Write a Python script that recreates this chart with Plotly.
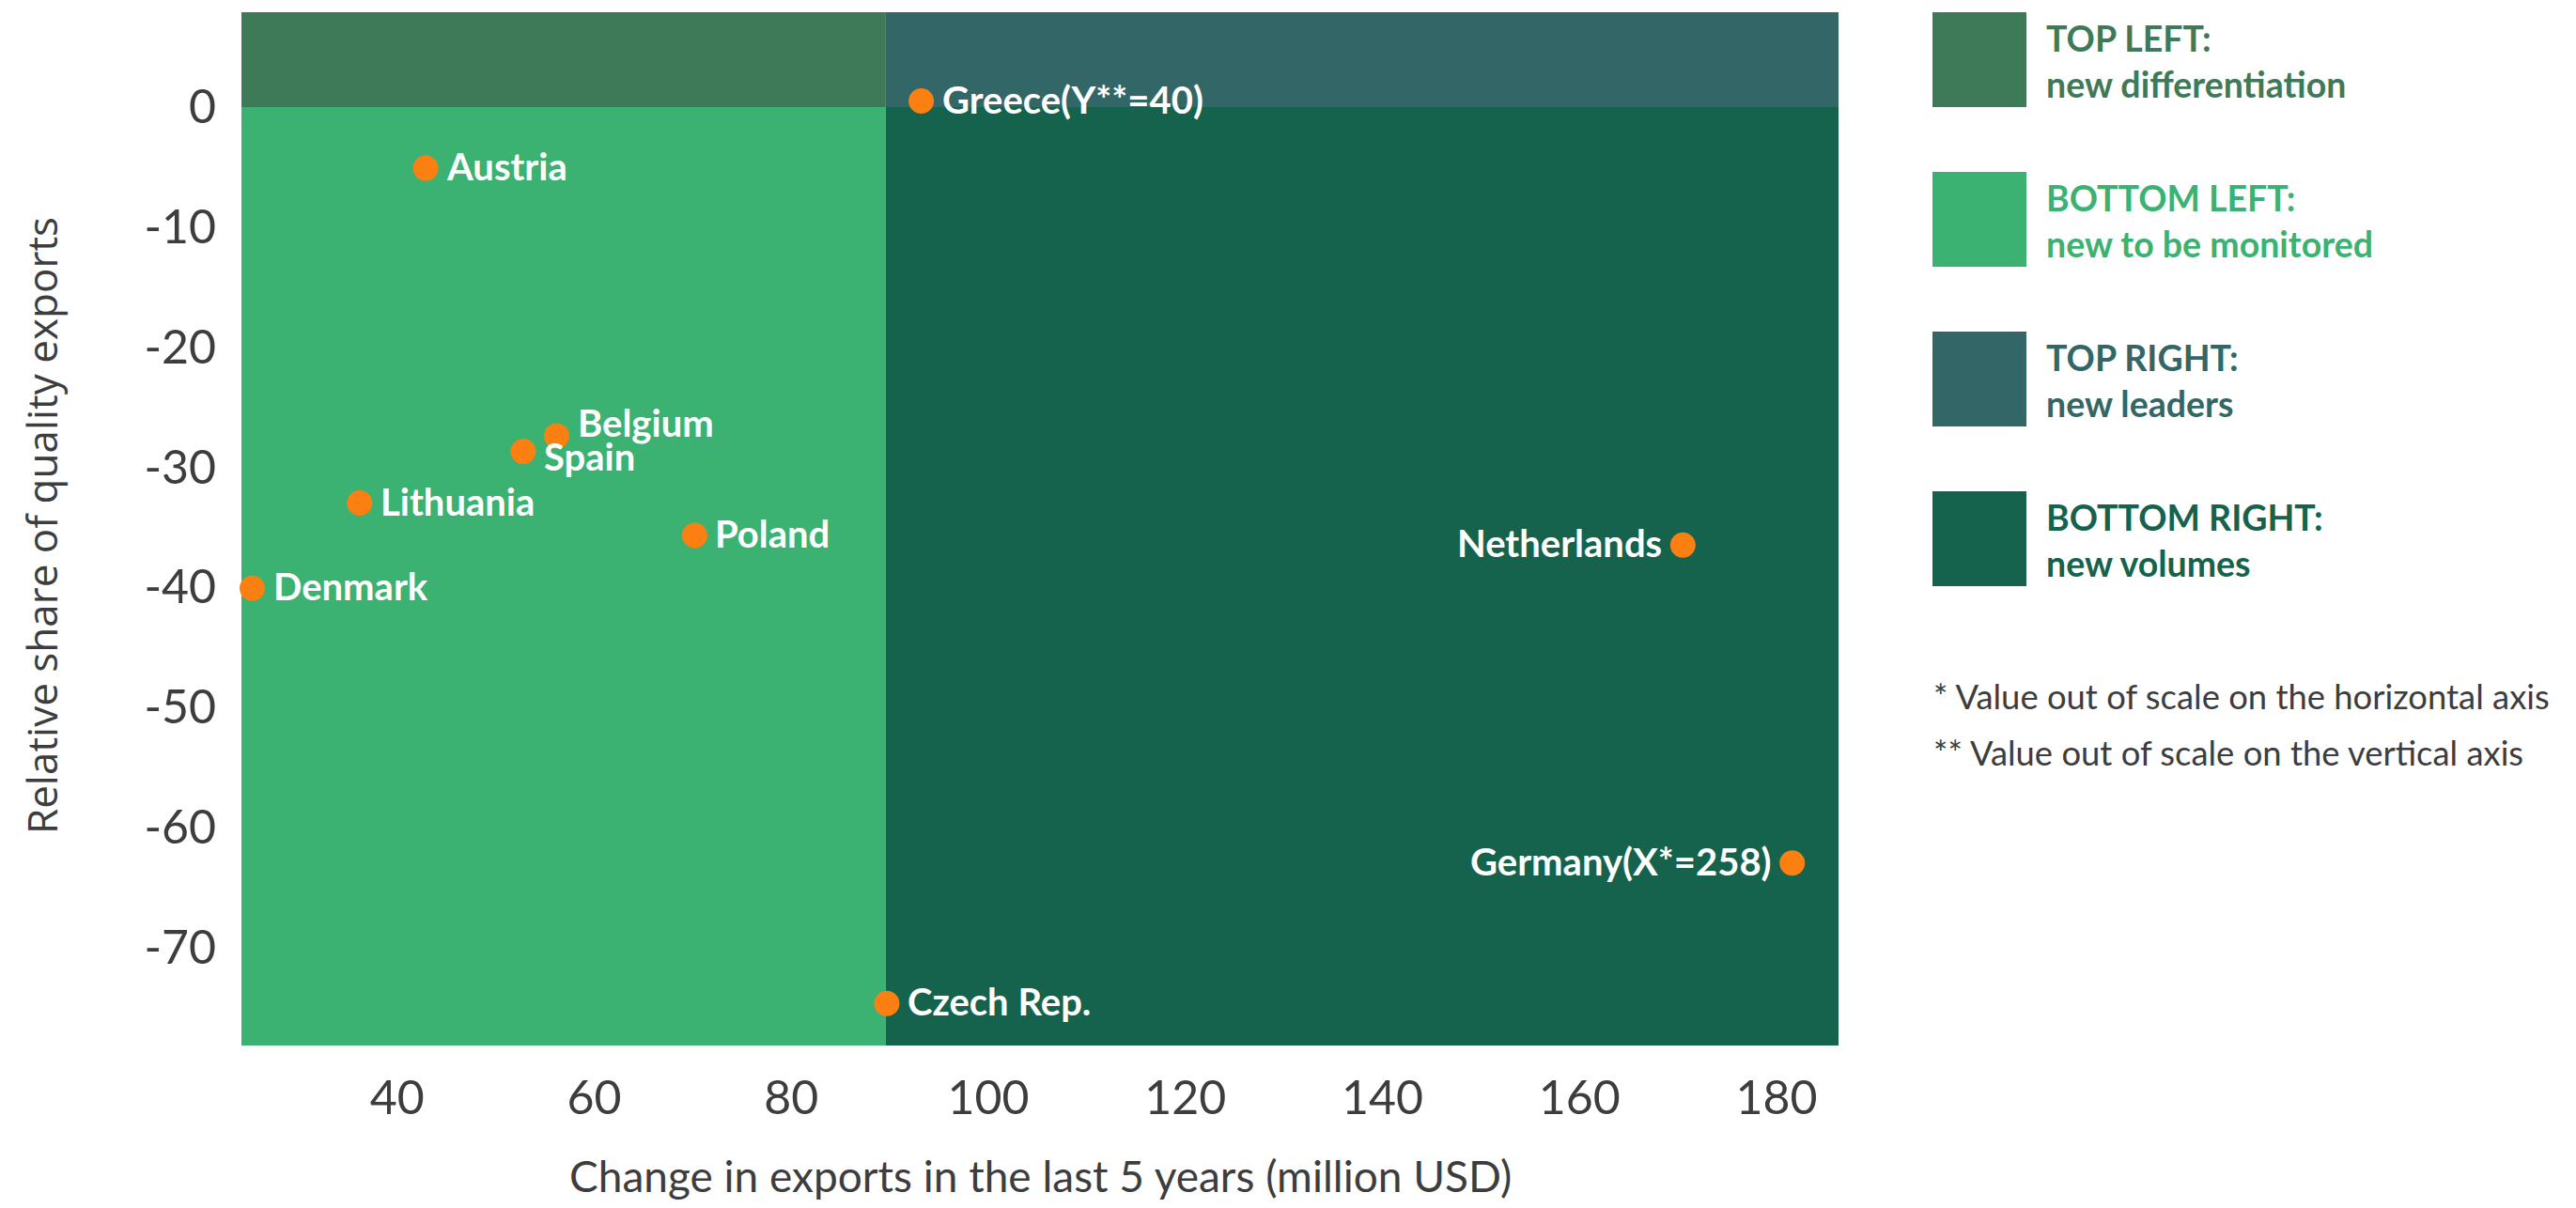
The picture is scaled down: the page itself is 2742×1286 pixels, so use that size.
import plotly.graph_objects as go

# ---------------- data ----------------
countries = ["Austria", "Belgium", "Spain", "Lithuania", "Poland", "Denmark",
             "Greece(Y**=40)", "Netherlands", "Germany(X*=258)", "Czech Rep."]
export_change = [42.9, 56.2, 52.8, 36.2, 70.2, 25.3, 93.2, 170.5, 181.6, 89.7]
quality_share = [-5.1, -27.4, -28.7, -33.0, -35.7, -40.1, 0.5, -36.5, -63.0, -74.7]

x_ticks = [40, 60, 80, 100, 120, 140, 160, 180]
y_ticks = [0, -10, -20, -30, -40, -50, -60, -70]

x_divider = 89.6
y_divider = 0

quadrant_titles = ["TOP LEFT:", "BOTTOM LEFT:", "TOP RIGHT:", "BOTTOM RIGHT:"]
quadrant_subtitles = ["new differentiation", "new to be monitored", "new leaders", "new volumes"]
footnotes = ["* Value out of scale on the horizontal axis",
             "** Value out of scale on the vertical axis"]

x_title = "Change in exports in the last 5 years (million USD)"
y_title = "Relative share of quality exports"

# ---------------- styling ----------------
BODY = 8  # default page margin of the html body
W, H = 2742 - 2 * BODY, 1286 - 2 * BODY
ML, MT = 257 - BODY, 13 - BODY
PW, PH = 1700, 1100
MR = W - ML - PW
MB = H - MT - PH
x_range = [24.2, 186.3]
y_range = [-78.2, 7.9]

col_tl = "#3f7a58"
col_bl = "#3bb271"
col_tr = "#336666"
col_br = "#15634c"
quad_colors = [col_tl, col_bl, col_tr, col_br]
marker_col = "#fc7f12"
text_col = "#3d3d3d"
FONT = "Source Sans Pro, Lato, sans-serif"

# label placement: side (+1 right, -1 left) and vertical shift in px
label_side = {"Netherlands": -1, "Germany(X*=258)": -1}
label_dy = {"Belgium": 12, "Spain": -7}


def px_x(px):
    """screen x (px) -> paper x"""
    return (px - BODY - ML) / PW


def px_y(py):
    """screen y (px) -> paper y"""
    return (MT + PH - (py - BODY)) / PH


fig = go.Figure()

# quadrants
quads = [
    (x_range[0], x_divider, y_divider, y_range[1], col_tl),
    (x_range[0], x_divider, y_range[0], y_divider, col_bl),
    (x_divider, x_range[1], y_divider, y_range[1], col_tr),
    (x_divider, x_range[1], y_range[0], y_divider, col_br),
]
for x0, x1, y0, y1, c in quads:
    fig.add_shape(type="rect", xref="x", yref="y", x0=x0, x1=x1, y0=y0, y1=y1,
                  fillcolor=c, line=dict(width=0), layer="below")

fig.add_trace(go.Scatter(
    x=export_change, y=quality_share, mode="markers",
    marker=dict(size=27, color=marker_col, line=dict(width=0)),
    cliponaxis=False, hoverinfo="text", text=countries, showlegend=False))

annotations = []
for name, xv, yv in zip(countries, export_change, quality_share):
    side = label_side.get(name, 1)
    annotations.append(dict(
        x=xv, y=yv, xref="x", yref="y", text=name, showarrow=False,
        xanchor="left" if side > 0 else "right", yanchor="middle",
        xshift=20 * side, yshift=2 + label_dy.get(name, 0),
        font=dict(family=FONT, size=40, color="white", weight="bold")))

# axis titles
annotations.append(dict(
    x=0.5, y=px_y(1251), xref="paper", yref="paper", text=x_title, showarrow=False,
    xanchor="center", yanchor="middle",
    font=dict(family=FONT, size=46, color=text_col)))
annotations.append(dict(
    x=px_x(44), y=px_y(560), xref="paper", yref="paper", text=y_title, showarrow=False,
    xanchor="center", yanchor="middle", textangle=-90,
    font=dict(family="Open Sans, sans-serif", size=44, color=text_col)))

# custom legend
sw_top = [13, 183, 353, 523]
for i, top in enumerate(sw_top):
    fig.add_shape(type="rect", xref="paper", yref="paper",
                  x0=px_x(2057), x1=px_x(2157), y0=px_y(top + 101), y1=px_y(top),
                  fillcolor=quad_colors[i], line=dict(width=0))
    annotations.append(dict(
        x=px_x(2176), y=px_y(top + 52), xref="paper", yref="paper",
        text=quadrant_titles[i] + "<br>" + quadrant_subtitles[i], showarrow=False,
        xanchor="left", yanchor="middle", align="left",
        font=dict(family=FONT, size=37.5, color=quad_colors[i], weight="bold")))

for i, t in enumerate(footnotes):
    annotations.append(dict(
        x=px_x(2056), y=px_y(741 + 60 * i), xref="paper", yref="paper", text=t,
        showarrow=False, xanchor="left", yanchor="middle",
        font=dict(family=FONT, size=36.4, color=text_col)))

fig.update_layout(
    width=W, height=H,
    margin=dict(l=ML, r=MR, t=MT, b=MB, autoexpand=False),
    paper_bgcolor="white", plot_bgcolor="white",
    annotations=annotations,
    xaxis=dict(range=x_range, tickvals=x_ticks, ticktext=[str(v) for v in x_ticks],
               showgrid=False, zeroline=False, showline=False,
               ticks="outside", ticklen=12, tickcolor="rgba(0,0,0,0)",
               tickfont=dict(family=FONT, size=50, color=text_col)),
    yaxis=dict(range=y_range, tickvals=y_ticks, ticktext=[str(v) for v in y_ticks],
               showgrid=False, zeroline=False, showline=False,
               ticks="outside", ticklen=16, tickcolor="rgba(0,0,0,0)",
               tickfont=dict(family=FONT, size=50, color=text_col)),
    font=dict(family=FONT),
)

fig.write_html("out.html")
